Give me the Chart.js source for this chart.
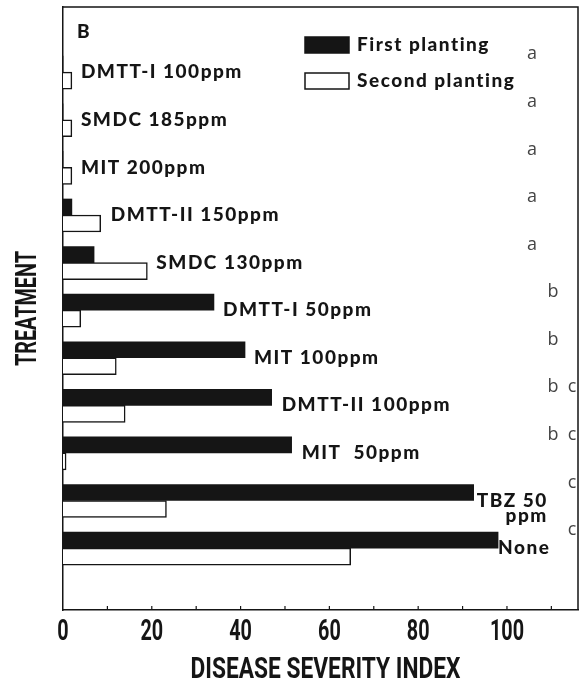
<!DOCTYPE html>
<html>
<head>
<meta charset="utf-8">
<script src="https://cdn.jsdelivr.net/npm/chart.js@4.4.1/dist/chart.umd.min.js"></script>
<style>
  body { margin: 0; background: #fff; }
  #wrap { width: 581px; height: 686px; position: relative; }
</style>
</head>
<body>
<div id="wrap"><canvas id="severity"></canvas></div>
<script>
const treatments = [
  ["DMTT-I 100ppm"], ["SMDC 185ppm"], ["MIT 200ppm"], ["DMTT-II 150ppm"],
  ["SMDC 130ppm"], ["DMTT-I 50ppm"], ["MIT 100ppm"], ["DMTT-II 100ppm"],
  ["MIT  50ppm"], ["TBZ 50", "ppm"], ["None"]
];
const firstPlanting = [0, 0, 0, 2, 7, 34, 41, 47, 51.5, 92.5, 98];
const secondPlanting = [2, 2, 2, 8.5, 19, 4, 12, 14, 0.7, 23.3, 64.8];
const groups = ["a", "a", "a", "a", "a", "b", "b", "b c", "b c", "c", "c"];
const xTicks = [0, 20, 40, 60, 80, 100];
const xTitle = "DISEASE SEVERITY INDEX";
const yTitle = "TREATMENT";

const ink = "#151515";
const labelFont = "900 19px Lato, 'DejaVu Sans', sans-serif";
const axisFont = "bold 30px Roboto, 'DejaVu Sans', sans-serif";

// condensed text, the original uses a narrow bold face
function textoEstrecho(ctx, text, x, y, sx, rot) {
  ctx.save();
  ctx.translate(x, y);
  if (rot) ctx.rotate(rot);
  ctx.scale(sx, 1);
  ctx.fillText(text, 0, 0);
  ctx.restore();
}

// labels, letters, legend and frame drawn on top of the bars
const plugin_textos = {
  id: "textos",
  afterDatasetsDraw: (chart) => {
    const ctx = chart.ctx;
    const xs = chart.scales.x;
    const ys = chart.scales.y;
    const area = chart.chartArea;
    ctx.save();

    // frame (top + right)
    ctx.strokeStyle = ink;
    ctx.lineWidth = 1.5;
    ctx.beginPath();
    ctx.moveTo(area.left, area.top);
    ctx.lineTo(area.right, area.top);
    ctx.lineTo(area.right, area.bottom);
    ctx.stroke();

    // inward ticks on the x axis
    ctx.lineWidth = 1.2;
    for (let v = 10; v <= 110; v += 10) {
      const px = xs.getPixelForValue(v);
      ctx.beginPath();
      ctx.moveTo(px, area.bottom);
      ctx.lineTo(px, area.bottom - 4);
      ctx.stroke();
    }

    // axis numbers and titles
    ctx.fillStyle = ink;
    ctx.font = axisFont;
    ctx.textAlign = "center";
    ctx.textBaseline = "middle";
    xTicks.forEach((v) => {
      textoEstrecho(ctx, String(v), xs.getPixelForValue(v), area.bottom + 22, 0.66);
    });
    let w = ctx.measureText(xTitle).width;
    textoEstrecho(ctx, xTitle, (area.left + area.right) / 2 + 5, area.bottom + 60, 270 / w);
    w = ctx.measureText(yTitle).width;
    textoEstrecho(ctx, yTitle, 28, (area.top + area.bottom) / 2, 115 / w, -Math.PI / 2);

    // treatment labels
    ctx.font = labelFont;
    ctx.letterSpacing = "1.5px";
    const gaps = [9, 9, 9, 10, 9, 9, 9, 10, 10, 3, 0];
    treatments.forEach((lines, i) => {
      const end = Math.max(firstPlanting[i], secondPlanting[i]);
      const x = xs.getPixelForValue(end) + gaps[i];
      const y = ys.getPixelForValue(i);
      ctx.textAlign = "left";
      ctx.fillText(lines[0], x, y);
      const lw = ctx.measureText(lines[0]).width;
      ctx.textAlign = "right";
      for (let k = 1; k < lines.length; k++) {
        ctx.fillText(lines[k], x + lw, y + 15 * k);
      }
    });

    // significance letters
    ctx.letterSpacing = "0px";
    ctx.font = "18px 'Open Sans', sans-serif";
    ctx.fillStyle = "#444";
    ctx.textAlign = "center";
    const colX = { a: area.right - 46, b: area.right - 25, c: area.right - 6 };
    groups.forEach((g, i) => {
      const y = ys.getPixelForValue(i) - 18;
      g.split(" ").forEach((letter) => ctx.fillText(letter, colX[letter], y));
    });

    // panel letter
    ctx.fillStyle = ink;
    ctx.textAlign = "left";
    ctx.font = "900 19px Lato, sans-serif";
    ctx.fillText("B", 77, 32);

    // legend
    ctx.font = labelFont;
    ctx.letterSpacing = "1.5px";
    chart.data.datasets.forEach((ds, i) => {
      const y = 37 + i * 36;
      ctx.fillStyle = i === 0 ? ink : "#fff";
      ctx.fillRect(305, y, 44, 16);
      ctx.strokeStyle = ink;
      ctx.lineWidth = 1.5;
      ctx.strokeRect(305, y, 44, 16);
      ctx.fillStyle = ink;
      ctx.fillText(ds.label, 357, y + 8);
    });
    ctx.restore();
  },
};

const ctx = document.getElementById("severity").getContext("2d");
const chart_severity = new Chart(ctx, {
  type: "bar",
  data: {
    datasets: [
      {
        label: "First planting",
        data: firstPlanting.map((v, i) => ({ x: v, y: i })),
        backgroundColor: ink,
        borderWidth: 0,
        barThickness: 16,
      },
      {
        label: "Second planting",
        data: secondPlanting.map((v, i) => ({ x: v, y: i })),
        backgroundColor: "#fff",
        borderColor: ink,
        borderWidth: 1.5,
        barThickness: 17,
      },
    ],
  },
  options: {
    indexAxis: "y",
    responsive: true,
    maintainAspectRatio: false,
    animation: false,
    layout: { padding: { top: 7, right: 3, left: 0, bottom: 0 } },
    plugins: {
      legend: { display: false },
      tooltip: { enabled: false },
    },
    scales: {
      x: {
        type: "linear",
        min: 0,
        max: 116,
        afterFit: (s) => { s.height = 76; },
        grid: { display: false, drawTicks: false },
        border: { display: true, color: ink, width: 1.5 },
        ticks: { display: false },
      },
      y: {
        type: "linear",
        reverse: true,
        offset: false,
        min: -1.37,
        max: 11.3,
        afterFit: (s) => { s.width = 63; },
        grid: { display: false, drawTicks: false },
        border: { display: true, color: ink, width: 1.5 },
        ticks: { display: false },
      },
    },
  },
  plugins: [plugin_textos],
});
</script>
</body>
</html>
